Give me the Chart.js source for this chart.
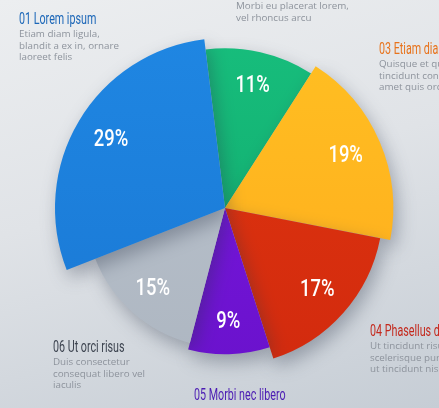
<!DOCTYPE html>
<html>
<head>
<meta charset="utf-8">
<script src="https://cdn.jsdelivr.net/npm/chart.js@4.4.1/dist/chart.umd.min.js"></script>
<style>
  html, body { margin: 0; padding: 0; }
  body { width: 439px; height: 408px; overflow: hidden; position: relative;
    background: linear-gradient(165deg, #eceef0 0%, #e0e3e7 45%, #c6cdd5 100%);
    font-family: "Open Sans", "DejaVu Sans", sans-serif; }
  #wrap { position: absolute; left: 0; top: 0; width: 439px; height: 408px; }
  .note { position: absolute; white-space: nowrap; }
  .head { font-family: "Roboto", "DejaVu Sans", sans-serif; font-size: 16px; line-height: 18px;
    display: inline-block; transform: scaleX(0.67); transform-origin: 0 50%; }
  .body { font-size: 9.8px; line-height: 11.5px; color: #8d939c; margin-top: -1px; }
</style>
</head>
<body>
<div id="wrap"><canvas id="c"></canvas></div>

<div class="note" style="left:19px;top:7px;">
  <div class="head" style="color:#1c67b8;">01 Lorem ipsum</div>
  <div class="body">Etiam diam ligula,<br>blandit a ex in, ornare<br>laoreet felis</div>
</div>
<div class="note" style="left:236px;top:1px;">
  <div class="body">Morbi eu placerat lorem,<br>vel rhoncus arcu</div>
</div>
<div class="note" style="left:379px;top:37px;">
  <div class="head" style="color:#e8731c;">03 Etiam diam</div>
  <div class="body">Quisque et quam<br>tincidunt consec<br>amet quis orci</div>
</div>
<div class="note" style="left:370px;top:319px;">
  <div class="head" style="color:#c4291d;">04 Phasellus dia</div>
  <div class="body">Ut tincidunt risus<br>scelerisque purus<br>ut tincidunt nisi vi</div>
</div>
<div class="note" style="left:194px;top:383px;">
  <div class="head" style="color:#4b1bb3;">05 Morbi nec libero</div>
</div>
<div class="note" style="left:53px;top:335px;">
  <div class="head" style="color:#3d4450;">06 Ut orci risus</div>
  <div class="body">Duis consectetur<br>consequat libero vel<br>iaculis</div>
</div>

<script>
// Data
const categories = ["02", "03 Etiam diam", "04 Phasellus", "05 Morbi nec libero", "06 Ut orci risus", "01 Lorem ipsum"];
const shares = [11, 19, 17, 9, 15, 29];
const percentLabels = ["11%", "19%", "17%", "9%", "15%", "29%"];

// Style
const sliceColors = ["#17bd7c", "#ffbf22", "#e0360f", "#7b17e2", "#bcc4ce", "#1f86e2"];
const sliceColorsDark = ["#0fa86a", "#ffab1c", "#d22a0e", "#6a12cc", "#adb6c1", "#1a78d4"];
const radiusScale = [0.94, 0.99, 0.93, 0.86, 0.82, 1.0];

const radiusPlugin = {
  id: 'radiusPlugin',
  afterDatasetUpdate(chart, args) {
    args.meta.data.forEach((arc, i) => { arc.outerRadius = arc.outerRadius * radiusScale[i]; });
  }
};

const shadowPlugin = {
  id: 'shadowPlugin',
  beforeDatasetsDraw(chart) {
    const ctx = chart.ctx;
    ctx.save();
    ctx.shadowColor = 'rgba(40,50,70,0.35)';
    ctx.shadowBlur = 18;
    ctx.shadowOffsetX = 4;
    ctx.shadowOffsetY = 8;
  },
  afterDatasetsDraw(chart) {
    chart.ctx.restore();
  }
};

const labelPlugin = {
  id: 'labelPlugin',
  afterDraw(chart) {
    const ctx = chart.ctx;
    const meta = chart.getDatasetMeta(0);
    meta.data.forEach((arc, i) => {
      const mid = (arc.startAngle + arc.endAngle) / 2;
      const r = arc.outerRadius * 0.78;
      ctx.save();
      ctx.translate(arc.x + Math.cos(mid) * r, arc.y + Math.sin(mid) * r);
      ctx.scale(0.8, 1);
      ctx.fillStyle = '#ffffff';
      ctx.font = '500 23px Roboto, "DejaVu Sans", sans-serif';
      ctx.textAlign = 'center';
      ctx.textBaseline = 'middle';
      ctx.fillText(percentLabels[i], 0, 0);
      ctx.restore();
    });
  }
};

new Chart(document.getElementById('c'), {
  type: 'pie',
  data: {
    labels: categories,
    datasets: [{
      data: shares,
      borderWidth: 0,
      backgroundColor(ctx) {
        const chart = ctx.chart;
        const area = chart.chartArea;
        if (!area) return sliceColors[ctx.dataIndex];
        const g = chart.ctx.createLinearGradient(0, area.top, 0, area.bottom);
        g.addColorStop(0, sliceColors[ctx.dataIndex]);
        g.addColorStop(1, sliceColorsDark[ctx.dataIndex]);
        return g;
      }
    }]
  },
  options: {
    responsive: true,
    maintainAspectRatio: false,
    animation: false,
    rotation: -7,
    layout: { padding: { left: 11, right: 0, top: 38, bottom: 30 } },
    plugins: { legend: { display: false }, tooltip: { enabled: false } }
  },
  plugins: [radiusPlugin, shadowPlugin, labelPlugin]
});
</script>
</body>
</html>
